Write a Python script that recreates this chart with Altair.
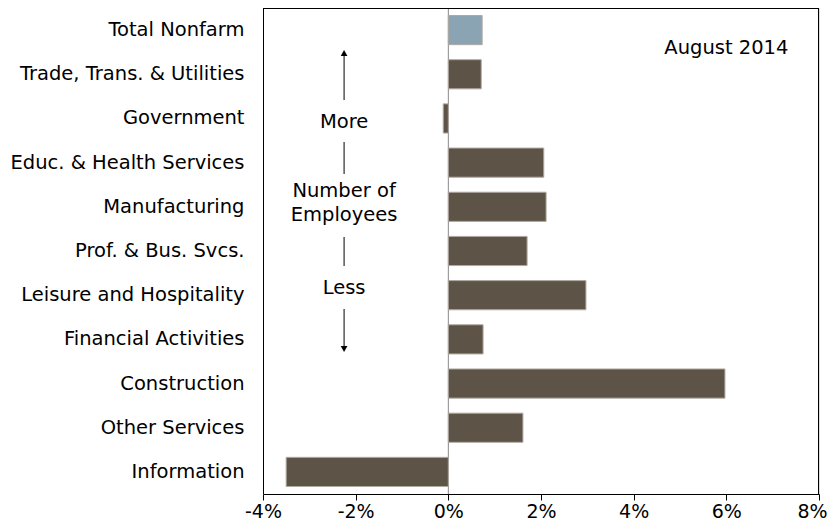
import altair as alt
import pandas as pd

categories = [
    "Total Nonfarm", "Trade, Trans. & Utilities", "Government",
    "Educ. & Health Services", "Manufacturing", "Prof. & Bus. Svcs.",
    "Leisure and Hospitality", "Financial Activities", "Construction",
    "Other Services", "Information",
]
values = [0.73, 0.71, -0.11, 2.06, 2.11, 1.70, 2.97, 0.75, 5.97, 1.61, -3.50]
groups = ["total"] + ["sector"] * 10
x_ticks = [-4, -2, 0, 2, 4, 6, 8]

df = pd.DataFrame({"cat": categories, "val": values, "grp": groups})
one = pd.DataFrame({"k": [0]})

FONT = "DejaVu Sans"
FS = 19.5
FSX = 19
W, H = 556, 486
AX = -2.25

xscale = alt.Scale(domain=[-4, 8], nice=False, zero=False)

bars = alt.Chart(df).mark_bar(stroke="#b0a9a2", strokeWidth=1).encode(
    x=alt.X("val:Q", scale=xscale,
            axis=alt.Axis(values=x_ticks, labelExpr="datum.value + '%'", title=None,
                          grid=False, domainColor="black", tickColor="black",
                          tickSize=6, labelFontSize=FSX, labelColor="black",
                          labelFont=FONT, labelFlush=False,
                          labelOffset={"condition": {"test": "datum.value == 8", "value": -7},
                                       "value": 0})),
    y=alt.Y("cat:N", sort=categories,
            scale=alt.Scale(paddingInner=0.34, paddingOuter=0.17),
            axis=alt.Axis(title=None, domain=False, ticks=False, labelPadding=19,
                          labelFontSize=FS, labelColor="black", labelFont=FONT,
                          labelLimit=300)),
    color=alt.Color("grp:N", scale=alt.Scale(domain=["total", "sector"],
                                             range=["#8ba4b4", "#5e5347"]), legend=None),
)

zero = alt.Chart(one).mark_rule(color="#8a8a8a", strokeWidth=1).encode(x=alt.datum(0))

# plot frame (top, left, right) drawn on half pixels for a crisp line
frame = [
    alt.Chart(one).mark_rule(color="black", strokeWidth=1).encode(
        x=alt.value(0), x2=alt.value(W), y=alt.value(0.5)),
    alt.Chart(one).mark_rule(color="black", strokeWidth=1).encode(
        x=alt.value(0.5), y=alt.value(0), y2=alt.value(H)),
    alt.Chart(one).mark_rule(color="black", strokeWidth=1).encode(
        x=alt.value(W - 0.5), y=alt.value(0), y2=alt.value(H)),
]

def vrule(y1, y2):
    return alt.Chart(one).mark_rule(color="black", strokeWidth=1).encode(
        x=alt.datum(AX), y=alt.value(y1), y2=alt.value(y2))

def label(txt, y):
    return alt.Chart(one).mark_text(font=FONT, fontSize=FS, color="black",
                                    align="center", baseline="middle").encode(
        x=alt.datum(AX), y=alt.value(y), text=alt.value(txt))

def head(shape, y):
    return alt.Chart(one).mark_point(shape=shape, filled=True, color="black",
                                     size=45, opacity=1).encode(
        x=alt.datum(AX), y=alt.value(y))

annot = [
    vrule(44, 92), head("triangle-up", 45),
    label("More", 114),
    vrule(134, 166),
    label("Number of", 183), label("Employees", 207),
    vrule(229, 258),
    label("Less", 280),
    vrule(301, 341), head("triangle-down", 341),
]

month = alt.Chart(one).mark_text(font=FONT, fontSize=FS, color="black",
                                 align="center", baseline="middle").encode(
    x=alt.datum(6.0), y=alt.value(40), text=alt.value("August 2014"))

chart = alt.layer(zero, bars, *frame, *annot, month).properties(
    width=W, height=H,
    autosize=alt.AutoSizeParams(type="none"),
    padding={"left": 255, "top": 0, "right": 8, "bottom": 28},
).configure_view(strokeWidth=0).configure(font=FONT)

chart.save("out.html", embed_options={"renderer": "svg", "actions": False})
